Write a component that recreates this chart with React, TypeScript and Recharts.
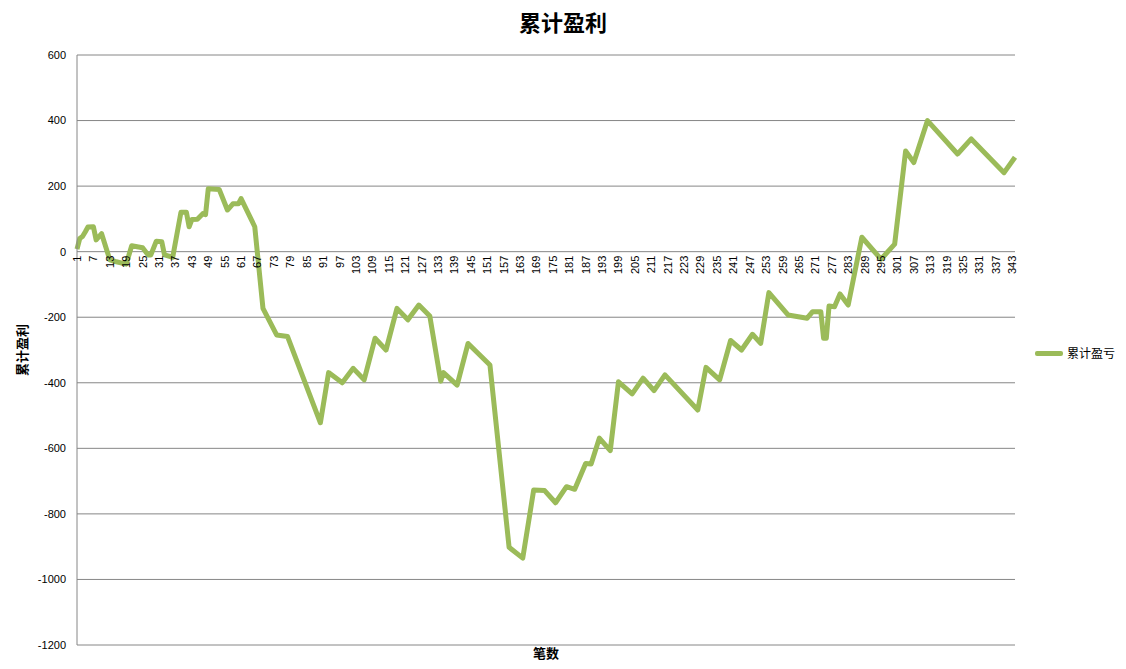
import { CartesianGrid, Line, LineChart, XAxis, YAxis } from 'recharts';

// trade number (笔数) and cumulative P&L at each turning point of the line
const tradeNo = [
  1, 2, 3, 4, 5, 7, 8, 10, 13, 15, 19, 21, 25, 27, 28, 30, 32, 33, 36, 39,
  41, 42, 43, 45, 47, 48, 49, 53, 56, 58, 60, 61, 66, 69, 74, 78, 90, 93, 98, 102,
  106, 110, 114, 118, 122, 126, 130, 134, 135, 140, 144, 152, 159, 164, 168, 172, 176, 180, 183, 187,
  189, 192, 196, 199, 204, 208, 212, 216, 228, 231, 236, 240, 244, 248, 251, 254, 261, 268, 270, 273,
  274, 275, 276, 278, 280, 283, 288, 295, 300, 304, 307, 312, 323, 328, 340, 344,
];
const cumPnl = [
  8, 40, 46, 60, 75, 76, 36, 55, -25, -30, -38, 18, 12, -10, -10, 32, 30, -10, -17, 120,
  120, 76, 98, 99, 116, 113, 192, 190, 127, 146, 146, 162, 76, -173, -254, -259, -522, -369, -400, -356,
  -391, -264, -300, -173, -208, -163, -196, -395, -369, -407, -280, -346, -902, -935, -727, -729, -766, -717, -725, -646,
  -648, -569, -607, -397, -434, -386, -424, -376, -483, -353, -391, -271, -300, -252, -280, -125, -193, -203, -183, -183,
  -264, -264, -166, -168, -129, -163, 44, -23, 23, 307, 272, 400, 298, 344, 241, 288,
];

const xTicks = [
  1, 7, 13, 19, 25, 31, 37, 43, 49, 55, 61, 67, 73, 79, 85, 91, 97, 103, 109, 115,
  121, 127, 133, 139, 145, 151, 157, 163, 169, 175, 181, 187, 193, 199, 205, 211, 217, 223, 229, 235,
  241, 247, 253, 259, 265, 271, 277, 283, 289, 295, 301, 307, 313, 319, 325, 331, 337, 343,
];
const yTicks = [-1200, -1000, -800, -600, -400, -200, 0, 200, 400, 600];

const data = tradeNo.map((n, i) => ({ n, v: cumPnl[i] }));

const W = 1126;
const H = 669;
const TOP = 55;
const LEFT = 77;
const PLOT_W = 938;
const PLOT_H = 590;
const Y_MIN = -1200;
const Y_MAX = 600;
const zeroY = TOP + (PLOT_H * (Y_MAX - 0)) / (Y_MAX - Y_MIN);

const tickFont = '"Liberation Sans", Arial, sans-serif';
const cjkFont = '"Noto Sans CJK SC", sans-serif';

// category labels sit next to the 0 line, like Excel's axis crossing at zero
const XTick = (props: any) => {
  const { x, payload } = props;
  return (
    <text
      x={x}
      y={zeroY + 4}
      transform={`rotate(-90 ${x} ${zeroY + 4})`}
      textAnchor="end"
      dominantBaseline="central"
      fontSize={11}
      fontFamily={tickFont}
      fill="#000"
    >
      {payload.value}
    </text>
  );
};

export default function App() {
  return (
    <div style={{ position: 'absolute', left: 0, top: 0, width: W, height: H, background: '#fff' }}>
      <div
        style={{
          position: 'absolute', left: 0, width: W, top: 6, textAlign: 'center',
          fontFamily: cjkFont, fontWeight: 700, fontSize: 22, lineHeight: '30px',
        }}
      >
        累计盈利
      </div>
      <div
        style={{
          position: 'absolute', left: LEFT, width: PLOT_W, top: 644, textAlign: 'center',
          fontFamily: cjkFont, fontWeight: 700, fontSize: 13, lineHeight: '18px',
        }}
      >
        笔数
      </div>
      <div
        style={{
          position: 'absolute', left: 22 - 40, top: TOP + PLOT_H / 2 - 9, width: 80, textAlign: 'center',
          transform: 'rotate(-90deg)', fontFamily: cjkFont, fontWeight: 700, fontSize: 13, lineHeight: '18px',
        }}
      >
        累计盈利
      </div>
      <div
        style={{
          position: 'absolute', left: 1035, top: 344, display: 'flex', alignItems: 'center',
          fontFamily: cjkFont, fontSize: 12, lineHeight: '18px', color: '#000',
        }}
      >
        <span style={{ display: 'inline-block', width: 28, height: 5, background: '#9bbb59', borderRadius: 2, marginRight: 4 }} />
        累计盈亏
      </div>
      <LineChart
        width={W}
        height={H}
        data={data}
        margin={{ top: TOP, right: W - LEFT - PLOT_W, bottom: H - TOP - PLOT_H - 1, left: 7 }}
      >
        <CartesianGrid vertical={false} stroke="#868686" />
        <XAxis
          dataKey="n"
          type="number"
          domain={[1, 344]}
          ticks={xTicks}
          interval={0}
          height={1}
          axisLine={false}
          tickLine={false}
          tick={<XTick />}
        />
        <YAxis
          domain={[Y_MIN, Y_MAX]}
          ticks={yTicks}
          interval={0}
          width={70}
          stroke="#868686"
          tickLine={false}
          tickSize={4}
          tickMargin={7}
          tick={{ fontSize: 11, fontFamily: tickFont, fill: '#000' }}
        />
        <Line
          type="linear"
          dataKey="v"
          stroke="#9bbb59"
          strokeWidth={5}
          dot={false}
          strokeLinejoin="round"
          isAnimationActive={false}
        />
      </LineChart>
    </div>
  );
}
